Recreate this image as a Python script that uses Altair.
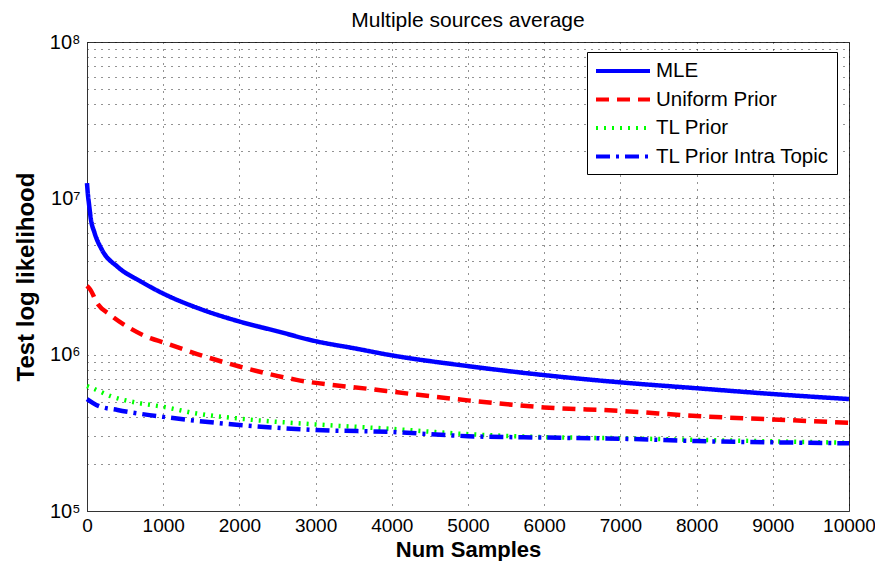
import altair as alt
import pandas as pd

series = ["MLE", "Uniform Prior", "TL Prior", "TL Prior Intra Topic"]

mle_x = [0, 10, 25, 50, 100, 200, 400, 700, 1000, 1500, 2000, 2500, 3000, 3500, 4000, 5000, 6000, 7000, 8000, 9000, 10000]
mle_y = [1.25e7, 1.08e7, 9.3e6, 7.4e6, 6.0e6, 4.65e6, 3.65e6, 2.95e6, 2.46e6, 1.95e6, 1.63e6, 1.41e6, 1.22e6, 1.1e6, 9.9e5, 8.45e5, 7.4e5, 6.65e5, 6.1e5, 5.6e5, 5.2e5]

uni_x = [0, 40, 135, 310, 570, 840, 1000, 1500, 2000, 2750, 3750, 5000, 6000, 7000, 8000, 9000, 10000]
uni_y = [2.75e6, 2.62e6, 2.13e6, 1.79e6, 1.47e6, 1.27e6, 1.2e6, 9.9e5, 8.4e5, 6.9e5, 6.0e5, 5.1e5, 4.6e5, 4.37e5, 4.05e5, 3.85e5, 3.67e5]

tl_x = [0, 80, 310, 660, 990, 1440, 2000, 3000, 4000, 5000, 6000, 7000, 8000, 9000, 10000]
tl_y = [6.3e5, 6.08e5, 5.43e5, 4.92e5, 4.65e5, 4.2e5, 3.9e5, 3.58e5, 3.35e5, 3.1e5, 2.97e5, 2.92e5, 2.85e5, 2.79e5, 2.73e5]

tli_x = [0, 150, 400, 750, 1000, 2000, 3000, 4000, 5000, 6000, 7000, 8000, 9000, 10000]
tli_y = [5.2e5, 4.7e5, 4.43e5, 4.15e5, 4.0e5, 3.55e5, 3.3e5, 3.2e5, 3.01e5, 2.95e5, 2.9e5, 2.8e5, 2.75e5, 2.71e5]

x_ticks = [0, 1000, 2000, 3000, 4000, 5000, 6000, 7000, 8000, 9000, 10000]
y_ticks = [m * 10 ** k for k in (5, 6, 7) for m in range(1, 10)] + [10 ** 8]

rows = []
for name, xs, ys in [("MLE", mle_x, mle_y), ("Uniform Prior", uni_x, uni_y),
                     ("TL Prior", tl_x, tl_y), ("TL Prior Intra Topic", tli_x, tli_y)]:
    for xv, yv in zip(xs, ys):
        rows.append({"series": name, "x": xv, "y": yv})
df = pd.DataFrame(rows)

FONT = "Liberation Sans"

color_scale = alt.Scale(domain=series, range=["#0000ff", "#ff0000", "#00ff00", "#0000ff"])
dash_scale = alt.Scale(domain=series, range=[[1, 0], [13, 8], [2, 6], [14, 6, 3, 6]])

legend = alt.Legend(
    title=None, orient="none", legendX=500, legendY=10,
    symbolType="M-1,0H4.4", symbolSize=400, symbolStrokeWidth=4,
    labelFont=FONT, labelFontSize=20.5, labelColor="#000", labelLimit=400,
    labelOffset=38, padding=7, rowPadding=5.5,
    strokeColor="#000", fillColor="#ffffff",
)

label_expr = ("datum.value == 100000 ? '10⁵' : datum.value == 1000000 ? '10⁶' : "
              "datum.value == 10000000 ? '10⁷' : datum.value == 100000000 ? '10⁸' : ''")

chart = alt.Chart(df).mark_line(strokeWidth=4.5, interpolate="monotone").encode(
    x=alt.X("x:Q", scale=alt.Scale(domain=[0, 10000], nice=False),
            axis=alt.Axis(values=x_ticks, title="Num Samples", format="d",
                          titleX=381, titleY=45, titleBaseline="alphabetic",
                          titleFont=FONT, titleFontSize=22, titleFontWeight="bold",
                          labelFont=FONT, labelFontSize=19, labelPadding=5,
                          labelFlush=False, ticks=False)),
    y=alt.Y("y:Q", scale=alt.Scale(type="log", domain=[1e5, 1e8], nice=False),
            axis=alt.Axis(values=y_ticks, labelExpr=label_expr, title="Test log likelihood",
                          titleX=-54, titleY=234.5, titleBaseline="alphabetic",
                          titleFont=FONT, titleFontSize=24, titleFontWeight="bold",
                          labelFont=FONT, labelFontSize=20, labelPadding=7,
                          ticks=False)),
    color=alt.Color("series:N", scale=color_scale, sort=series, legend=legend),
    strokeDash=alt.StrokeDash("series:N", scale=dash_scale, sort=series, legend=legend),
).properties(
    width=762, height=469,
    autosize=alt.AutoSizeParams(type="none"),
    padding={"left": 79, "top": 34, "right": 26, "bottom": 50},
    title=alt.Title("Multiple sources average", font=FONT, fontSize=21,
                    fontWeight="normal", color="#000", anchor="middle",
                    baseline="alphabetic", offset=-16),
).configure_view(
    stroke="#333", strokeWidth=1
).configure_axis(
    grid=True, gridColor="#000", gridDash=[1, 6], gridOpacity=0.85, gridWidth=1,
    domainColor="#333", labelColor="#000", titleColor="#000",
)

chart.save("out.html", embed_options={"renderer": "svg", "actions": False})
